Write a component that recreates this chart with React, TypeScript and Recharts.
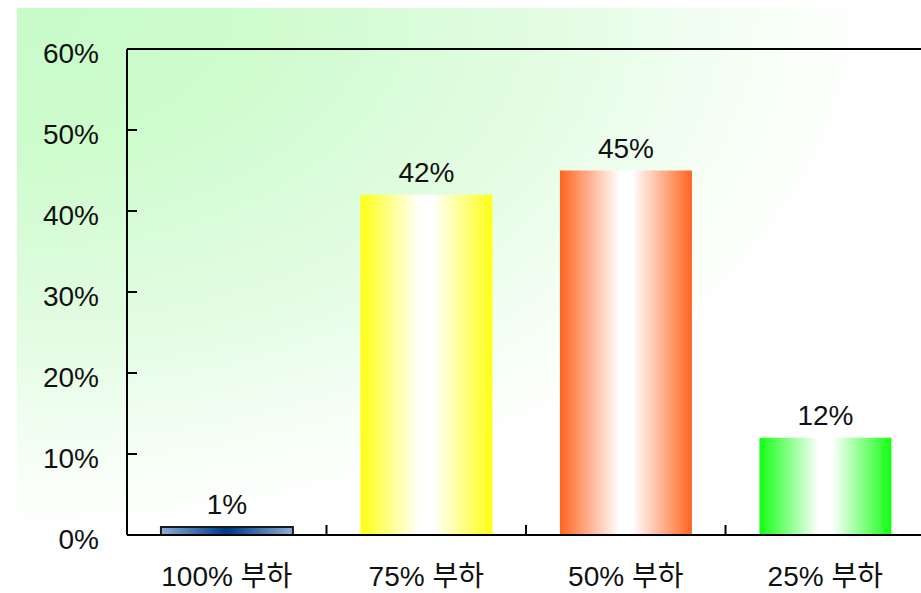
import React from 'react';
import { BarChart, Bar, XAxis, YAxis, ReferenceLine, LabelList, Cell } from 'recharts';

const categories = ['100% 부하', '75% 부하', '50% 부하', '25% 부하'];
const shares = [1, 42, 45, 12];
const yTicks = [0, 10, 20, 30, 40, 50, 60];

const data = categories.map((name, i) => ({ name, share: shares[i] }));

// edge colour of each bar's horizontal gradient, centre colour
const gradients = [
    { id: 'g0', edge: '#8db0d6', mid: '#003b8c', flat: 0.02 },
    { id: 'g1', edge: '#ffff14', mid: '#ffffff', flat: 0.05 },
    { id: 'g2', edge: '#ff6420', mid: '#ffffff', flat: 0.05 },
    { id: 'g3', edge: '#12ff12', mid: '#ffffff', flat: 0.05 },
];

const FONT = "'Liberation Sans', 'Noto Sans CJK KR', sans-serif";
const X_LABEL_GAP = 31;

const CategoryTick = (props: any) => {
    const { x, y, payload, index } = props;
    const axisY = y - X_LABEL_GAP;
    const half = payload && payload.offset;
    return (
        <g>
            {index > 0 && half ? (
                <line x1={x - half} x2={x - half} y1={axisY} y2={axisY - 10} stroke="#000" strokeWidth={2} />
            ) : null}
            <text x={x} y={y} dy="0.71em" textAnchor="middle" fontSize={28} fontFamily={FONT} fill="#111">
                {payload.value}
            </text>
        </g>
    );
};

const ValueTick = (props: any) => {
    const { x, y, payload } = props;
    return (
        <text x={x} y={y} dy="0.38em" textAnchor="end" fontSize={28} fontFamily={FONT} fill="#111" transform="translate(0,3)">
            {payload.value}%
        </text>
    );
};

const App = () => {
    return (
        <div style={{ position: 'absolute', left: 0, top: 0, width: 921, height: 593, overflow: 'hidden', background: '#fff' }}>
            <div
                style={{
                    position: 'absolute',
                    left: 17,
                    top: 8,
                    width: 904,
                    height: 554,
                    background: 'radial-gradient(farthest-side at 0 0, #c9fbc9 0%, #cdfccd 25%, #e2fce2 58%, #f3fef3 78%, #ffffff 95%)',
                }}
            />
            <div style={{ position: 'absolute', left: 0, top: 0 }}>
                <BarChart width={925} height={593} data={data} margin={{ top: 49, right: 0, left: 0, bottom: 0 }} barCategoryGap="17%">
                    <defs>
                        {gradients.map((g) => (
                            <linearGradient key={g.id} id={g.id} x1="0" y1="0" x2="1" y2="0">
                                <stop offset="0%" stopColor={g.edge} />
                                <stop offset={`${(0.5 - g.flat) * 100}%`} stopColor={g.mid} />
                                <stop offset={`${(0.5 + g.flat) * 100}%`} stopColor={g.mid} />
                                <stop offset="100%" stopColor={g.edge} />
                            </linearGradient>
                        ))}
                    </defs>
                    <XAxis
                        dataKey="name"
                        height={58}
                        tickLine={false}
                        tickSize={0}
                        tickMargin={X_LABEL_GAP}
                        axisLine={{ stroke: '#000', strokeWidth: 2 }}
                        tick={<CategoryTick />}
                        interval={0}
                    />
                    <YAxis
                        width={127}
                        domain={[0, 60]}
                        ticks={yTicks}
                        tickSize={-10}
                        tickMargin={38}
                        axisLine={{ stroke: '#000', strokeWidth: 2 }}
                        tickLine={{ stroke: '#000', strokeWidth: 2 }}
                        tick={<ValueTick />}
                        allowDataOverflow
                    />
                    <ReferenceLine y={60} stroke="#000" strokeWidth={2} />
                    <Bar dataKey="share" isAnimationActive={false}>
                        {data.map((d, i) => (
                            <Cell
                                key={d.name}
                                fill={`url(#${gradients[i].id})`}
                                stroke={i === 0 ? '#1a1a1a' : 'none'}
                                strokeWidth={i === 0 ? 2 : 0}
                            />
                        ))}
                        <LabelList
                            dataKey="share"
                            position="top"
                            offset={13}
                            formatter={(v: any) => `${v}%`}
                            fontSize={28}
                            fontFamily={FONT}
                            fill="#111"
                        />
                    </Bar>
                </BarChart>
            </div>
        </div>
    );
};

export default App;
